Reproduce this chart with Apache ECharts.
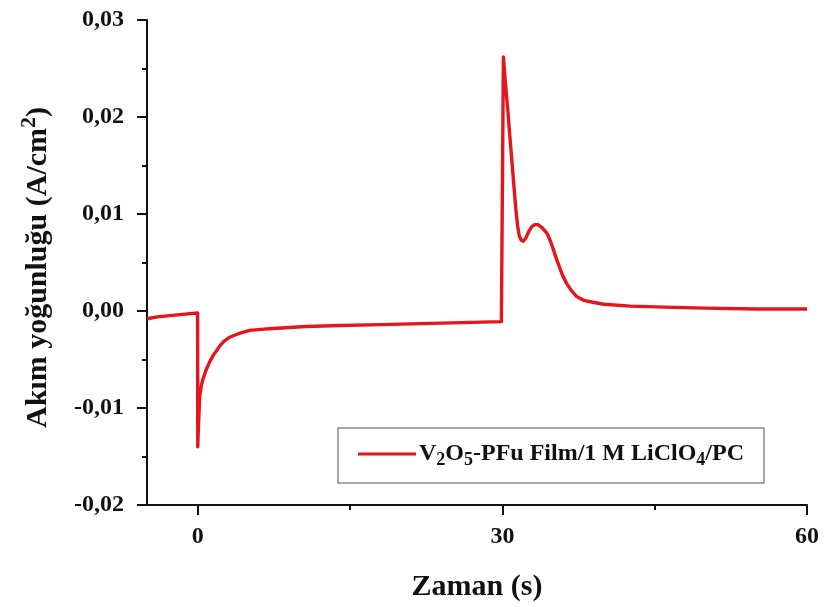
<!DOCTYPE html>
<html>
<head>
<meta charset="utf-8">
<script src="https://cdn.jsdelivr.net/npm/echarts@6/dist/echarts.min.js"></script>
<style>
  html, body { margin: 0; padding: 0; background: #fff; }
  #chart { width: 827px; height: 607px; }
</style>
</head>
<body>
<div id="chart"></div>
<script>
// Chronoamperometry trace: time (s) and current density (A/cm^2)
const timeS = [
  -5, -4, -3, -2, -1, -0.02,
  0, 0.05, 0.13, 0.2, 0.35, 0.52, 0.85, 1.15, 1.5, 1.85, 2.17, 2.6, 3.15, 3.6, 4.1, 4.6, 5.1,
  6.2, 7.4, 9, 10.7, 14, 18, 22, 26, 29.9,
  30.0, 30.1, 30.3, 30.55, 30.75, 30.95, 31.15, 31.35, 31.5, 31.65, 31.85, 32.05, 32.3, 32.6,
  32.9, 33.2, 33.5, 33.9, 34.4, 34.7, 35.0, 35.35, 35.7, 36.0, 36.35, 36.8, 37.3, 38.0, 38.9,
  40, 42.6, 46, 50, 55, 60
];
const currentDensity = [
  -0.0008, -0.0006, -0.0005, -0.0004, -0.0003, -0.0002,
  -0.0140, -0.0122, -0.0104, -0.0087, -0.0077, -0.0070, -0.0060, -0.0053, -0.0046, -0.0041,
  -0.0036, -0.0031, -0.0027, -0.0025, -0.0023, -0.00215, -0.0020,
  -0.0019, -0.0018, -0.0017, -0.0016, -0.0015, -0.0014, -0.0013, -0.0012, -0.0011,
  -0.0011, 0.0262, 0.0235, 0.0205, 0.0178, 0.0153, 0.0127, 0.0102, 0.0088, 0.0078, 0.0073,
  0.0072, 0.0075, 0.0082, 0.0087, 0.0089, 0.0089, 0.0086, 0.0080, 0.0073, 0.0064, 0.0053,
  0.0043, 0.0035, 0.0028, 0.0021, 0.0015, 0.0011, 0.0009,
  0.0007, 0.0005, 0.0004, 0.0003, 0.0002, 0.0002
];
const xMajorTicks = [0, 30, 60];
const xMinorTicks = [15, 45];
const seriesName = 'V{sub|2}O{sub|5}-PFu Film/1 M LiClO{sub|4}/PC';

const serif = '"Liberation Serif", "Times New Roman", serif';
const ink = '#111';
const points = timeS.map((t, i) => [t, currentDensity[i]]);

const chart = echarts.init(document.getElementById('chart'));
chart.setOption({
  backgroundColor: '#ffffff',
  animation: false,
  grid: { left: 147, right: 20, top: 20, bottom: 100 },
  legend: {
    left: 338, top: 428, width: 425,
    padding: [14, 20, 14, 20],
    borderColor: '#8a8a8a', borderWidth: 1.5,
    icon: 'rect', itemWidth: 58, itemHeight: 3, itemGap: 2,
    data: [{ name: seriesName }],
    formatter: n => n,
    textStyle: {
      fontFamily: serif, fontWeight: 'bold', fontSize: 24, color: ink,
      padding: [0, 0, 0, -2],
      rich: {
        sub: { fontFamily: serif, fontWeight: 'bold', fontSize: 18, padding: [12, 0, 0, 0], color: ink }
      }
    }
  },
  xAxis: [
    {
      type: 'value', min: -5, max: 60,
      splitLine: { show: false },
      axisLine: { onZero: false, lineStyle: { color: ink, width: 2 } },
      axisTick: { customValues: xMajorTicks, length: 10, lineStyle: { color: ink, width: 2 } },
      axisLabel: {
        customValues: xMajorTicks, margin: 20,
        fontFamily: serif, fontWeight: 'bold', fontSize: 24, color: ink
      },
      name: 'Zaman (s)', nameLocation: 'middle', nameGap: 67,
      nameTextStyle: { fontFamily: serif, fontWeight: 'bold', fontSize: 30, color: ink }
    },
    {
      type: 'value', min: -5, max: 60, position: 'bottom',
      splitLine: { show: false },
      axisLine: { show: false, onZero: false },
      axisTick: { customValues: xMinorTicks, length: 5, lineStyle: { color: ink, width: 2 } },
      axisLabel: { show: false }
    }
  ],
  yAxis: {
    type: 'value', min: -0.02, max: 0.03, interval: 0.01,
    splitLine: { show: false },
    axisLine: { show: true, onZero: false, lineStyle: { color: ink, width: 2 } },
    axisTick: { show: true, length: 10, lineStyle: { color: ink, width: 2 } },
    minorTick: { show: true, splitNumber: 2, length: 5, lineStyle: { color: ink, width: 2 } },
    axisLabel: {
      margin: 23,
      fontFamily: serif, fontWeight: 'bold', fontSize: 24, color: ink,
      formatter: v => (Math.round(v * 100) / 100).toFixed(2).replace('.', ',')
    },
    name: 'Akım yoğunluğu (A/cm{sup|2})',
    nameLocation: 'middle', nameGap: 89, nameRotate: 90,
    nameTextStyle: {
      fontFamily: serif, fontWeight: 'bold', fontSize: 30, color: ink,
      padding: [0, 10, 0, 0],
      rich: {
        sup: { fontFamily: serif, fontWeight: 'bold', fontSize: 22, padding: [0, 0, 18, 0], color: ink }
      }
    }
  },
  series: [
    {
      name: seriesName,
      type: 'line',
      xAxisIndex: 0,
      data: points,
      showSymbol: false,
      smooth: false,
      color: '#e4161c',
      lineStyle: { color: '#e4161c', width: 3.4, join: 'round' }
    }
  ]
});
</script>
</body>
</html>
